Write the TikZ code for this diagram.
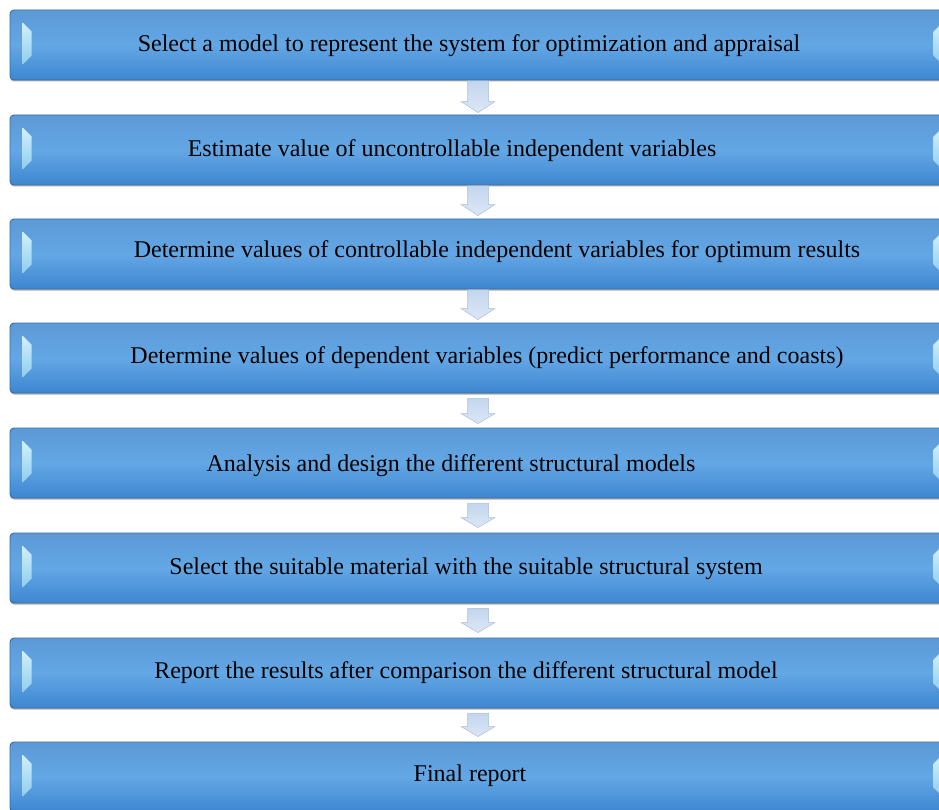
\documentclass[tikz,border=0pt]{standalone}
\usepackage{fontspec}
\setmainfont{Liberation Serif}
\usetikzlibrary{calc,shadows}
\definecolor{bxtop}{HTML}{5C99D6}
\definecolor{bxmid}{HTML}{63A7E5}
\definecolor{bxbot}{HTML}{3E86D0}
\definecolor{bxline}{HTML}{3D6C9C}
\definecolor{hltop}{HTML}{D2F0FC}
\definecolor{hlbot}{HTML}{8FCDF0}
\definecolor{artop}{HTML}{C3D6EE}
\definecolor{arbot}{HTML}{DCE7F5}
\definecolor{arline}{HTML}{A9BEDB}
\tikzset{
  bx/.style={draw=bxline, line width=0.9pt, rounded corners=4pt,
    top color=bxtop, bottom color=bxbot, middle color=bxmid,
    minimum width=945pt, minimum height=70pt, inner sep=0pt,
    drop shadow={shadow xshift=0pt, shadow yshift=-1.5pt, opacity=0.45, fill=black!70}},
  txt/.style={font=\fontsize{24}{28}\selectfont, text=black, inner sep=0pt, anchor=base},
  hl/.style={top color=hltop, bottom color=hlbot, draw=none},
  barrowsty/.style={top color=artop, bottom color=arbot, draw=arline, line width=0.5pt, line join=miter}
}
\newcommand\hlmarks[1]{%
  \path[hl] ($(#1.north west)+(13,-13)$) -- ++(9,-9) -- ++(0,-24) -- ++(-9,-9) -- cycle;
  \path[hl] ($(#1.north east)+(-13,-13)$) -- ++(-9,-9) -- ++(0,-24) -- ++(9,-9) -- cycle;
}
% #1 upper node, #2 lower node, #3 top gap, #4 bottom gap, #5 head length
\newcommand\barrow[5]{%
  \path[barrowsty] let \p1=(#1.south), \p2=(#2.north) in
    (467.5,\y1-#3) -- (488.5,\y1-#3) -- (488.5,\y2+#4+#5) -- (495,\y2+#4+#5)
    -- (478,\y2+#4) -- (461,\y2+#4+#5) -- (467.5,\y2+#4+#5) -- cycle;
}
\begin{document}
\begin{tikzpicture}[x=1pt,y=1pt]
\useasboundingbox (0,0) rectangle (939,-810);
\fill[white] (0,0) rectangle (939,-810);

\node[bx] (b1) at (482.5,-45) {};
\node[bx] (b2) at (482.5,-150) {};
\node[bx] (b3) at (482.5,-254) {};
\node[bx] (b4) at (482.5,-358) {};
\node[bx] (b5) at (482.5,-463) {};
\node[bx] (b6) at (482.5,-568) {};
\node[bx] (b7) at (482.5,-673) {};
\node[bx] (b8) at (482.5,-777) {};

\hlmarks{b1}\hlmarks{b2}\hlmarks{b3}\hlmarks{b4}
\hlmarks{b5}\hlmarks{b6}\hlmarks{b7}\hlmarks{b8}

\node[txt] (t1) at (469,-52) {Select a model to represent the system for optimization and appraisal};
\node[txt] (t2) at (452,-157) {Estimate value of uncontrollable independent variables};
\node[txt] (t3) at (497,-258) {Determine values of controllable independent variables for optimum results};
\node[txt] (t4) at (487,-363) {Determine values of dependent variables (predict performance and coasts)};
\node[txt] (t5) at (451,-471) {Analysis and design the different structural models};
\node[txt] (t6) at (466,-574) {Select the suitable material with the suitable structural system};
\node[txt] (t7) at (466,-678) {Report the results after comparison the different structural model};
\node[txt] (t8) at (470,-781) {Final report};

\barrow{b1}{b2}{0.5}{2}{11}
\barrow{b2}{b3}{0.5}{3}{11}
\barrow{b3}{b4}{0.5}{3}{11}
\barrow{b4}{b5}{5}{4}{10}
\barrow{b5}{b6}{5}{5}{10}
\barrow{b6}{b7}{5}{5}{10}
\barrow{b7}{b8}{5}{5}{10}
\end{tikzpicture}
\end{document}
